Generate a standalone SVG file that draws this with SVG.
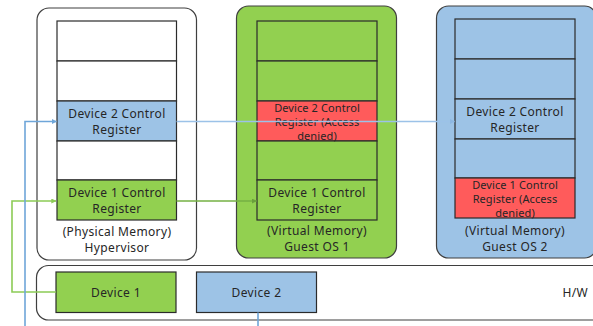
<svg xmlns="http://www.w3.org/2000/svg" width="593" height="326" viewBox="0 0 593 326">
  <style>
    .frame { stroke: #3f3f3f; stroke-width: 1.2; }
    .cell { stroke: #2b2b2b; stroke-width: 1.2; }
    .txt { font-family: "Noto Sans", "Open Sans", "Liberation Sans", sans-serif; font-size: 12px; letter-spacing: 0.35px; fill: #262626; text-anchor: middle; }
    .small { font-size: 11px; letter-spacing: 0.1px; }
    .blue-line { fill: none; stroke: #6fa6d9; stroke-width: 1.6; }
    .blue-light { fill: none; stroke: #9cc2e8; stroke-width: 1.6; }
    .green-line { fill: none; stroke: #8ccb55; stroke-width: 1.6; }
    .green-dark { fill: none; stroke: #74b043; stroke-width: 1.6; }
  </style>
  <defs>
    <marker id="arrBlue" viewBox="0 0 8 8" refX="7.5" refY="4" markerWidth="5" markerHeight="5" orient="auto" markerUnits="userSpaceOnUse">
      <path d="M0,0 L8,4 L0,8 z" fill="#6fa6d9"/>
    </marker>
    <marker id="arrBlueLight" viewBox="0 0 8 8" refX="7.5" refY="4" markerWidth="5" markerHeight="5" orient="auto" markerUnits="userSpaceOnUse">
      <path d="M0,0 L8,4 L0,8 z" fill="#8db7e2"/>
    </marker>
    <marker id="arrGreen" viewBox="0 0 8 8" refX="7.5" refY="4" markerWidth="5" markerHeight="5" orient="auto" markerUnits="userSpaceOnUse">
      <path d="M0,0 L8,4 L0,8 z" fill="#8ccb55"/>
    </marker>
    <marker id="arrGreenDark" viewBox="0 0 8 8" refX="7.5" refY="4" markerWidth="5" markerHeight="5" orient="auto" markerUnits="userSpaceOnUse">
      <path d="M0,0 L8,4 L0,8 z" fill="#6a9f3c"/>
    </marker>
  </defs>

  <rect width="593" height="326" fill="#ffffff"/>

  <!-- Hypervisor (physical memory) -->
  <g id="hypervisor">
    <rect class="frame" x="37" y="8" width="159.5" height="252" rx="12" fill="#ffffff"/>
    <rect class="cell" x="57" y="21" width="119.5" height="40" fill="#ffffff"/>
    <rect class="cell" x="57" y="61" width="119.5" height="40" fill="#ffffff"/>
    <rect class="cell" x="57" y="101" width="119.5" height="40" fill="#9dc3e6"/>
    <rect class="cell" x="57" y="141" width="119.5" height="39" fill="#ffffff"/>
    <rect class="cell" x="57" y="180" width="119.5" height="40" fill="#92d050"/>
    <text class="txt" x="117" y="118">Device 2 Control</text>
    <text class="txt" x="117" y="133.5">Register</text>
    <text class="txt" x="117" y="197">Device 1 Control</text>
    <text class="txt" x="117" y="212.5">Register</text>
    <text class="txt" x="117" y="236">(Physical Memory)</text>
    <text class="txt" x="117" y="252">Hypervisor</text>
  </g>

  <!-- Guest OS 1 (virtual memory) -->
  <g id="guest-os-1">
    <rect class="frame" x="236.5" y="6" width="160" height="252" rx="12" fill="#92d050"/>
    <rect class="cell" x="257" y="21" width="120" height="40" fill="#92d050"/>
    <rect class="cell" x="257" y="61" width="120" height="40" fill="#92d050"/>
    <rect class="cell" x="257" y="101" width="120" height="40" fill="#ff5b5b"/>
    <rect class="cell" x="257" y="141" width="120" height="39" fill="#92d050"/>
    <rect class="cell" x="257" y="180" width="120" height="40" fill="#92d050"/>
    <text class="txt small" x="317" y="112">Device 2 Control</text>
    <text class="txt small" x="317" y="126">Register (Access</text>
    <text class="txt small" x="317" y="140">denied)</text>
    <text class="txt" x="317" y="197">Device 1 Control</text>
    <text class="txt" x="317" y="212.5">Register</text>
    <text class="txt" x="317" y="234.5">(Virtual Memory)</text>
    <text class="txt" x="317" y="250.5">Guest OS 1</text>
  </g>

  <!-- Guest OS 2 (virtual memory) -->
  <g id="guest-os-2">
    <rect class="frame" x="436.5" y="6" width="160" height="252" rx="12" fill="#9dc3e6"/>
    <rect class="cell" x="455" y="19" width="120" height="40" fill="#9dc3e6"/>
    <rect class="cell" x="455" y="59" width="120" height="40" fill="#9dc3e6"/>
    <rect class="cell" x="455" y="99" width="120" height="40" fill="#9dc3e6"/>
    <rect class="cell" x="455" y="139" width="120" height="39" fill="#9dc3e6"/>
    <rect class="cell" x="455" y="178" width="120" height="40" fill="#ff5b5b"/>
    <text class="txt" x="515" y="116">Device 2 Control</text>
    <text class="txt" x="515" y="131.5">Register</text>
    <text class="txt small" x="515" y="189">Device 1 Control</text>
    <text class="txt small" x="515" y="203">Register (Access</text>
    <text class="txt small" x="515" y="216.5">denied)</text>
    <text class="txt" x="515" y="234.5">(Virtual Memory)</text>
    <text class="txt" x="515" y="250.5">Guest OS 2</text>
  </g>

  <!-- Hardware -->
  <g id="hardware">
    <rect class="frame" x="36.5" y="265.5" width="570" height="54.5" rx="12" fill="#ffffff"/>
    <text class="txt" x="588" y="297" style="text-anchor: end">H/W</text>
  </g>
  <g id="device-1">
    <rect class="cell" x="56" y="272" width="120" height="40.5" fill="#92d050"/>
    <text class="txt" x="116" y="297">Device 1</text>
  </g>
  <g id="device-2">
    <rect class="cell" x="196.5" y="272" width="120" height="40.5" fill="#9dc3e6"/>
    <text class="txt" x="256.5" y="297">Device 2</text>
  </g>

  <!-- Connectors -->
  <g id="connectors">
    <path class="green-line" d="M56,292 H12 V201 H56" marker-end="url(#arrGreen)"/>
    <path class="green-dark" d="M176.5,201 H256.5" marker-end="url(#arrGreenDark)"/>
    <path class="blue-line" d="M258,312.5 V330 H25 V121.5 H56.5" marker-end="url(#arrBlue)"/>
    <path class="blue-light" d="M176.5,121.5 H454.5" marker-end="url(#arrBlueLight)"/>
  </g>
</svg>
